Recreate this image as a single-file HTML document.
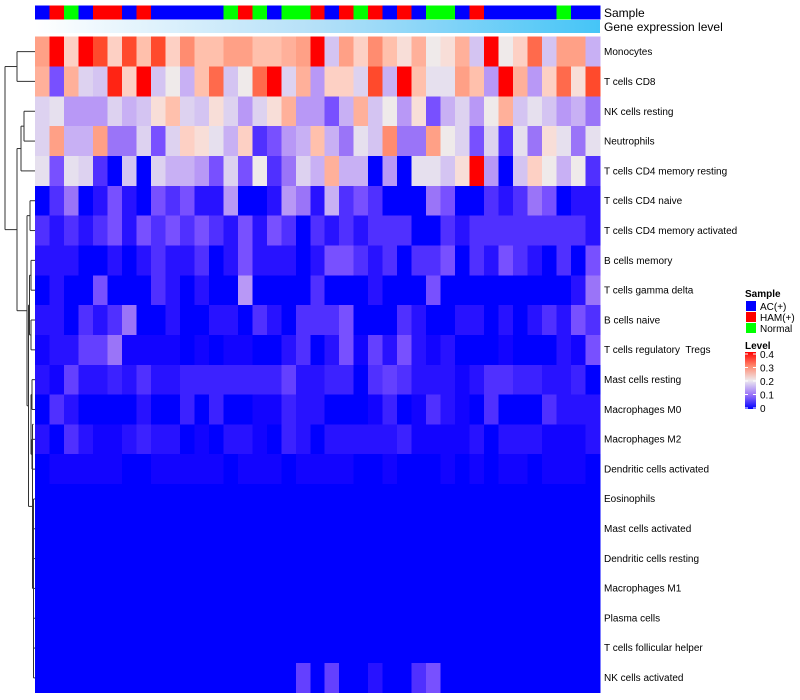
<!DOCTYPE html>
<html><head><meta charset="utf-8"><style>
html,body{margin:0;padding:0;background:#fff;}
svg{display:block;font-family:"Liberation Sans",Arial,sans-serif;}
</style></head><body>
<svg id="s" width="800" height="700" viewBox="0 0 800 700" xmlns="http://www.w3.org/2000/svg">
<defs>
<linearGradient id="ge" x1="0" x2="1" y1="0" y2="0"><stop offset="0" stop-color="#ffffff"/><stop offset="0.5" stop-color="#b4e0f8"/><stop offset="1" stop-color="#45c5f7"/></linearGradient>
<linearGradient id="lv" x1="0" x2="0" y1="0" y2="1"><stop offset="0" stop-color="#ff0000"/><stop offset="0.25" stop-color="#ff8a70"/><stop offset="0.5" stop-color="#eeeaee"/><stop offset="0.75" stop-color="#9a74f8"/><stop offset="1" stop-color="#0000ff"/></linearGradient>
</defs>
<g id="cells" shape-rendering="crispEdges"></g>
<rect x="35" y="20" width="565" height="13" fill="url(#ge)"/>
<g font-size="12" fill="#000">
<text x="604" y="17">Sample</text>
<text x="604" y="31">Gene expression level</text>
</g>
<g font-size="10" fill="#000">
<text x="604" y="55.2">Monocytes</text>
<text x="604" y="85">T cells CD8</text>
<text x="604" y="114.8">NK cells resting</text>
<text x="604" y="144.6">Neutrophils</text>
<text x="604" y="174.4">T cells CD4 memory resting</text>
<text x="604" y="204.2">T cells CD4 naive</text>
<text x="604" y="234">T cells CD4 memory activated</text>
<text x="604" y="263.8">B cells memory</text>
<text x="604" y="293.6">T cells gamma delta</text>
<text x="604" y="323.4">B cells naive</text>
<text x="604" y="353.2" xml:space="preserve">T cells regulatory  Tregs</text>
<text x="604" y="383">Mast cells resting</text>
<text x="604" y="412.8">Macrophages M0</text>
<text x="604" y="442.6">Macrophages M2</text>
<text x="604" y="472.4">Dendritic cells activated</text>
<text x="604" y="502.2">Eosinophils</text>
<text x="604" y="532">Mast cells activated</text>
<text x="604" y="561.8">Dendritic cells resting</text>
<text x="604" y="591.6">Macrophages M1</text>
<text x="604" y="621.4">Plasma cells</text>
<text x="604" y="651.2">T cells follicular helper</text>
<text x="604" y="681">NK cells activated</text>
</g>
<g id="dend" stroke="#333" stroke-width="1" fill="none"></g>
<g font-size="10">
<text x="745" y="297" font-weight="bold">Sample</text>
<rect x="746" y="301" width="10" height="10" fill="#0000ff"/>
<rect x="746" y="312" width="10" height="10" fill="#ff0000"/>
<rect x="746" y="323" width="10" height="10" fill="#00ff00"/>
<text x="760" y="310">AC(+)</text>
<text x="760" y="321">HAM(+)</text>
<text x="760" y="332">Normal</text>
<text x="745" y="349" font-weight="bold">Level</text>
<rect x="745" y="352" width="11" height="57" fill="url(#lv)"/>
<g stroke="#fff" stroke-width="1"><line x1="745" x2="748" y1="354" y2="354"/><line x1="753" x2="756" y1="354" y2="354"/><line x1="745" x2="748" y1="367.5" y2="367.5"/><line x1="753" x2="756" y1="367.5" y2="367.5"/><line x1="745" x2="748" y1="381" y2="381"/><line x1="753" x2="756" y1="381" y2="381"/><line x1="745" x2="748" y1="394.5" y2="394.5"/><line x1="753" x2="756" y1="394.5" y2="394.5"/><line x1="745" x2="748" y1="408" y2="408"/><line x1="753" x2="756" y1="408" y2="408"/></g>
<text x="760" y="358">0.4</text>
<text x="760" y="371.5">0.3</text>
<text x="760" y="385">0.2</text>
<text x="760" y="398.5">0.1</text>
<text x="760" y="412">0</text>
</g>
</svg>
<script>
var P={'0':'#0000ff','x':'#1204ff','1':'#2812ff','y':'#3c22ff','2':'#5030ff','z':'#6440ff','3':'#7850ff','4':'#9a74f8','5':'#b898f6','6':'#c8b0f4','7':'#d4c4f2','8':'#ddd2f0','9':'#e6e0ee','a':'#efeaea','b':'#f8ded8','c':'#fdd0c4','d':'#ffc0ac','e':'#ffb09a','f':'#ffa086','g':'#ff8c70','h':'#ff6a4c','i':'#ff4a2c','j':'#ff2414','k':'#ff0000'};
var R=["fkckicidicgddffddefk7fcgdbeabe7kach7ff6","e3e87jck7a6dh7ahk8e5cc8i6kd99fd5ke5chbi","89555867bd87b858be5536e7a5b3685ae797564","8f66f44838cb96c2356d6497g44fa838294b949","939820708665383a2486e66050997bk507ca6a2","024013103231150015416232000430021243011","212123132323213132021212220021222222221","111001012112013111013321202230213210203","010030002101005000020001000300000000014","110212400100110210222300021001101012132","x11zz4xxxx0x0xx0012013xz131x1000x0001x3","1xz11y1211yyyyyyyz11yy02z2111x122yy11y0","0210000100y0y00xxy11000xy0x21x020002111","1021xx1y110x011x0y1011111yxxxx10111xxx1","0xxxxx00xxxxx0xxx0xxxx00x000x0x0xx0xxx0"];
var z="000000000000000000000000000000000000000";
for(var i=0;i<6;i++)R.push(z);
R.push("000000000000000000z0z001002300000000000");
var S="BRGBRRBRBBBBBGRGBGGRBRGRBRBGGBRBBBBBGBB";
var SC={B:'#0000ff',R:'#ff0000',G:'#00ff00'};
var x0=35,cw=565/39,y0=36.7,rh=(692.8-36.7)/22,h='';
for(var c=0;c<39;c++){h+='<rect x="'+(x0+c*cw).toFixed(2)+'" y="5.5" width="'+(cw+0.3).toFixed(2)+'" height="14" fill="'+SC[S[c]]+'"/>';}
for(var r=0;r<22;r++)for(var c=0;c<39;c++){h+='<rect x="'+(x0+c*cw).toFixed(2)+'" y="'+(y0+r*rh).toFixed(2)+'" width="'+(cw+0.3).toFixed(2)+'" height="'+(rh+0.3).toFixed(2)+'" fill="'+P[R[r][c]]+'"/>';}
document.getElementById('cells').innerHTML=h;
function yc(r){return y0+(r+0.5)*rh;}
var d='';
function L(a,b,c,e){d+='<line x1="'+a+'" y1="'+b+'" x2="'+c+'" y2="'+e+'"/>';}
// top cluster rows 0-1
L(17,yc(0),35,yc(0));L(17,yc(1),35,yc(1));L(17,yc(0),17,yc(1));
var ytop=(yc(0)+yc(1))/2;
// rows 2-4
L(24,yc(2),35,yc(2));L(24,yc(3),35,yc(3));L(24,yc(2),24,yc(3));
var y23=(yc(2)+yc(3))/2;
L(21,y23,24,y23);L(21,yc(4),35,yc(4));L(21,y23,21,yc(4));
var y24=(y23+yc(4))/2;
// blue cluster rows 5-21
var yb=[];
L(30,yc(5),35,yc(5));L(30,yc(6),35,yc(6));L(30,yc(5),30,yc(6));
var y56=(yc(5)+yc(6))/2;
L(31,yc(7),35,yc(7));L(31,yc(8),35,yc(8));L(31,yc(7),31,yc(8));
var y78=(yc(7)+yc(8))/2;
L(31,yc(9),35,yc(9));L(31,yc(10),35,yc(10));L(31,yc(9),31,yc(10));
var y910=(yc(9)+yc(10))/2;
L(29.5,y78,31,y78);L(29.5,y910,31,y910);L(29.5,y78,29.5,y910);
var y710=(y78+y910)/2;
L(32,yc(11),35,yc(11));L(32,yc(12),35,yc(12));L(32,yc(11),32,yc(12));
var y1112=(yc(11)+yc(12))/2;
L(32,yc(13),35,yc(13));L(32,yc(14),35,yc(14));L(32,yc(13),32,yc(14));
var y1314=(yc(13)+yc(14))/2;
L(31,y1112,32,y1112);L(31,y1314,32,y1314);L(31,y1112,31,y1314);
var y1114=(y1112+y1314)/2;
for(var r=15;r<22;r++)L(33.5,yc(r),35,yc(r));
L(33.5,yc(15),33.5,yc(21));
var y1521=(yc(15)+yc(21))/2;
L(32.5,y1114,33.5,y1114);L(32.5,y1521,33.5,y1521);L(32.5,y1114,32.5,y1521);
var y1121=(y1114+y1521)/2;
L(28.5,y710,29.5,y710);L(28.5,y1121,32.5,y1121);L(28.5,y710,28.5,y1121);
var y721=(y710+y1121)/2;
L(27,y56,30,y56);L(27,y721,28.5,y721);L(27,y56,27,y721);
var yblue=(y56+y721)/2;
L(17,y24,21,y24);L(17,yblue,27,yblue);L(17,y24,17,yblue);
var ybot=(y24+yblue)/2;
L(5,ytop,17,ytop);L(5,ybot,17,ybot);L(5,ytop,5,ybot);
document.getElementById('dend').innerHTML=d;
</script>
</body></html>
